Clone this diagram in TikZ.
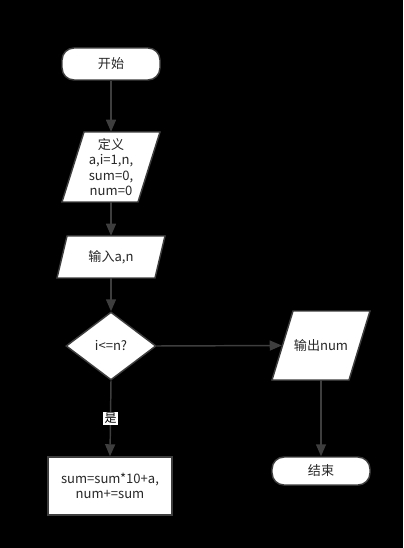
\documentclass[tikz,border=0pt]{standalone}
\usepackage{fontspec}
\setmainfont{Noto Sans CJK SC}
\usetikzlibrary{arrows.meta,shapes.geometric}
\definecolor{edgecol}{RGB}{62,62,62}
\definecolor{txtcol}{RGB}{40,40,40}
\begin{document}
\begin{tikzpicture}[x=0.75pt,y=-0.75pt,
  shapebox/.style={draw=edgecol, fill=white, line width=1.1pt},
  lbl/.style={text=txtcol, font=\fontsize{9.8}{11.4}\selectfont, align=center, inner sep=0pt},
  term/.style={shapebox, lbl, rounded corners=9pt, minimum width=73.5pt, minimum height=24pt},
  procbox/.style={shapebox, lbl, minimum width=93pt, minimum height=43.5pt},
  decbox/.style={shapebox, lbl, diamond, minimum width=67.5pt, minimum height=51pt},
  ghost/.style={lbl, rectangle},
  arr/.style={draw=edgecol, line width=1.1pt, -{Triangle[length=9pt,width=7.5pt]}},
  yeslbl/.style={fill=white, text=black, inner sep=1pt, font=\fontsize{9}{10}\selectfont}
]
\fill[black] (0,0) rectangle (403,548);
\useasboundingbox (0,0) rectangle (403,548);

% parallelogram outlines
\draw[shapebox] (84,132) -- (160,132) -- (138,202) -- (62,202) -- cycle;
\draw[shapebox] (67,236) -- (165,236) -- (155,278) -- (57,278) -- cycle;
\draw[shapebox] (293,311) -- (370,311) -- (349,380) -- (272,380) -- cycle;

% nodes
\node[term] (start) at (111,64) {开始};
\node[ghost, minimum width=57pt, minimum height=52.5pt] (def) at (111,167) {定义\\a,i=1,n,\\sum=0,\\num=0};
\node[ghost, minimum width=73.5pt, minimum height=31.5pt] (inp) at (111,257) {输入a,n};
\node[decbox] (dec) at (111,346) {i<=n?};
\node[procbox] (proc) at (110,486) {sum=sum*10+a,\\num+=sum};
\node[ghost, minimum width=58.5pt, minimum height=51.75pt] (outp) at (321,345.5) {输出num};
\node[term, minimum height=21pt] (stop) at (321,471) {结束};

% connectors
\draw[arr] (start.south) -- (def.north);
\draw[arr] (def.south) -- (inp.north);
\draw[arr] (inp.south) -- (dec.north);
\draw[arr] (dec.south) -- node[yeslbl] {是} (proc.north);
\draw[arr] (dec.east) -- (outp.west);
\draw[arr] (outp.south) -- (stop.north);
\end{tikzpicture}
\end{document}
